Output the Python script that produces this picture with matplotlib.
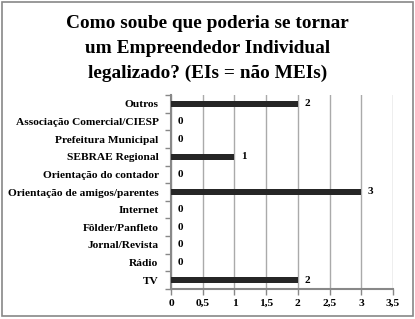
import matplotlib
matplotlib.use("Agg")
from matplotlib import pyplot as plt
from matplotlib.patches import Rectangle

categorias = ["Outros", "Associação Comercial/CIESP", "Prefeitura Municipal",
              "SEBRAE Regional", "Orientação do contador",
              "Orientação de amigos/parentes", "Internet", "Fôlder/Panfleto",
              "Jornal/Revista", "Rádio", "TV"]
valores = [2, 0, 0, 1, 0, 3, 0, 0, 0, 0, 2]
xticks = [0, 0.5, 1, 1.5, 2, 2.5, 3, 3.5]
xtick_labels = ["0", "0,5", "1", "1,5", "2", "2,5", "3", "3,5"]
titulo = "Como soube que poderia se tornar\num Empreendedor Individual\nlegalizado? (EIs = não MEIs)"

plt.rcParams["font.family"] = ["Liberation Serif", "DejaVu Serif"]
plt.rcParams["font.weight"] = "bold"

fig = plt.figure(figsize=(4.15, 3.19), dpi=100)
fig.patches.append(Rectangle((0.005, 0.008), 0.99, 0.985, transform=fig.transFigure,
                             fill=False, edgecolor="#888888", linewidth=1.2))
ax = fig.add_axes([171 / 415, 1 - 289 / 319, 222 / 415, 194 / 319])

pos = list(range(len(categorias)))
ax.barh(pos, valores, height=0.35, color="#262626", zorder=3)
for p, v in zip(pos, valores):
    ax.text(v + 0.1, p, str(v), va="center", ha="left", fontsize=8, fontweight="bold")

ax.set_ylim(len(categorias) - 0.5, -0.5)
ax.set_xlim(0, 3.5)
ax.set_yticks(pos)
ax.set_yticklabels(categorias, fontsize=8.2, fontweight="bold")
ax.set_yticks([p + 0.5 for p in range(-1, len(categorias))], minor=True)
ax.tick_params(axis="y", which="major", length=0, pad=9)
ax.tick_params(axis="y", which="minor", length=4, color="#888888", width=1)
ax.set_xticks(xticks)
ax.set_xticklabels(xtick_labels, fontsize=8.2, fontweight="bold")
ax.tick_params(axis="x", length=4, color="#888888", width=1, pad=3)
ax.grid(axis="x", color="#aaaaaa", linewidth=1, zorder=0)
for s in ["top", "right"]:
    ax.spines[s].set_visible(False)
for s in ["left", "bottom"]:
    ax.spines[s].set_color("#888888")
    ax.spines[s].set_linewidth(1.5)

fig.text(0.5, 1 - 15 / 319, titulo, ha="center", va="top", fontsize=13.9,
         fontweight="bold", linespacing=1.58)

fig.savefig("out.png", dpi=100)
